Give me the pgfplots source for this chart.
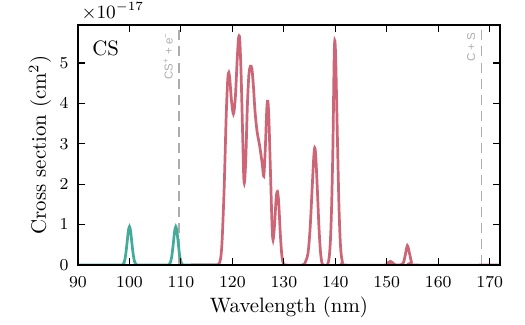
\documentclass[border=0pt]{standalone}
\usepackage{fontspec}
\usepackage{pgfplots}
\pgfplotsset{compat=1.18}
\newfontfamily\lblfont{Liberation Sans}
\definecolor{tealc}{HTML}{44AA99}
\definecolor{rosec}{HTML}{CC6677}
\begin{document}
\begin{tikzpicture}
\begin{axis}[name=ax, scale only axis, width=202.56pt, height=115.2pt,
  xmin=90, xmax=172, ymin=0, ymax=5.94,
  xtick={90,100,...,170}, ytick={0,1,2,3,4,5},
  tick align=inside, major tick length=3.4pt,
  tick style={line width=0.5pt, black},
  axis line style={line width=1pt},
  axis on top,
  tick label style={font=\footnotesize},
  xticklabel style={yshift=-2pt},
  yticklabel style={xshift=-1pt},
  label style={font=\normalsize},
  xlabel={Wavelength (nm)}, ylabel={Cross section (cm$^2$)},
  xlabel style={at={([yshift=-20.2pt]rel axis cs:0.5,0)}, anchor=center},
  ylabel style={at={([xshift=-18.2pt]rel axis cs:0,0.5)}, anchor=center},
  clip=true,
]
% dashed threshold lines
\addplot[gray!65, line width=0.8pt, dash pattern=on 4.8pt off 2.9pt] coordinates {(109.6,0) (109.6,5.94)};
\addplot[gray!65, line width=0.8pt, dash pattern=on 4.8pt off 2.9pt] coordinates {(168.4,0) (168.4,5.94)};
% teal series
\addplot[tealc, line width=1.3pt, smooth, tension=0.5] coordinates {
 (90,0) (98.5,0) (98.75,0.02) (99,0.08) (99.25,0.24) (99.5,0.51) (99.75,0.81) (99.9,0.92) (100,0.95)
 (100.1,0.92) (100.25,0.81) (100.5,0.51) (100.75,0.24) (101,0.08) (101.25,0.02) (101.5,0)
 (107.5,0) (107.75,0.02) (108,0.08) (108.25,0.24) (108.5,0.51) (108.75,0.81) (108.9,0.92) (109,0.95)
 (109.1,0.92) (109.25,0.81) (109.5,0.51) (109.75,0.24) (110,0.08) (110.25,0.02) (110.5,0) (117,0)
};
% red series
\addplot[rosec, line width=1.3pt, smooth, tension=0.5] coordinates {
 (112,0) (116.5,0) (117.3,0.02) (117.7,0.15) (118.0,0.6) (118.4,1.9) (118.8,3.7) (119.1,4.6)
 (119.3,4.76) (119.5,4.6) (119.8,4.1) (120.1,3.78) (120.3,3.78) (120.6,4.2) (120.9,5.0)
 (121.15,5.55) (121.3,5.67) (121.45,5.55) (121.7,4.7) (122.0,3.2) (122.2,2.2) (122.35,2.05)
 (122.6,2.6) (122.9,3.9) (123.2,4.7) (123.5,4.92) (123.8,4.85) (124.1,4.4) (124.4,3.8)
 (124.8,3.3) (125.3,2.95) (125.8,2.5) (126.1,2.2) (126.4,2.9) (126.7,3.9) (126.9,4.05)
 (127.1,3.6) (127.4,2.3) (127.7,1.0) (127.9,0.62) (128.2,1.0) (128.5,1.65) (128.75,1.82)
 (129.0,1.55) (129.3,0.8) (129.6,0.25) (129.9,0.03) (130.2,0)
 (133.6,0) (134.2,0.08) (134.7,0.3) (135.1,0.9) (135.5,1.9) (135.8,2.65) (136.0,2.9)
 (136.2,2.7) (136.5,1.9) (136.8,1.0) (137.1,0.35) (137.4,0.05) (137.7,0)
 (138.4,0) (138.7,0.1) (138.9,0.31) (139.1,0.75) (139.3,1.54) (139.5,2.7) (139.6,3.5)
 (139.7,4.5) (139.8,5.3) (139.9,5.55) (140.0,5.4) (140.1,5.0) (140.2,4.4) (140.35,3.5)
 (140.5,2.6) (140.7,1.5) (140.9,0.75) (141.1,0.31) (141.4,0.06) (141.7,0)
 (150,0) (150.3,0.06) (150.7,0.09) (151.1,0.06) (151.5,0.01) (152.5,0) (153.2,0.05)
 (153.6,0.25) (154.0,0.48) (154.4,0.3) (154.8,0.07) (155.2,0) (172,0)
};
\node[font=\normalsize, anchor=west, inner sep=0pt] at (rel axis cs:0.033,0.904) {CS};
\node[rotate=90, anchor=south east, text=gray!65, font=\lblfont\fontsize{5.5}{6}\selectfont, inner sep=1pt]
  at ([xshift=-1.8pt,yshift=-2.5pt]axis cs:109.6,5.94) {CS\textsuperscript{+} + e\textsuperscript{−}};
\node[rotate=90, anchor=south east, text=gray!65, font=\lblfont\fontsize{5.5}{6}\selectfont, inner sep=1pt]
  at ([xshift=-1.8pt,yshift=-2.5pt]axis cs:168.4,5.94) {C + S};
\end{axis}
\node[anchor=south west, font=\small, inner sep=0pt] at ([xshift=1.5pt,yshift=2pt]ax.north west) {$\times10^{-17}$};
\pgfresetboundingbox
\path ([shift={(-37.44pt,-28.32pt)}]ax.south west) rectangle ([shift={(12pt,12pt)}]ax.north east);
\end{tikzpicture}
\end{document}
